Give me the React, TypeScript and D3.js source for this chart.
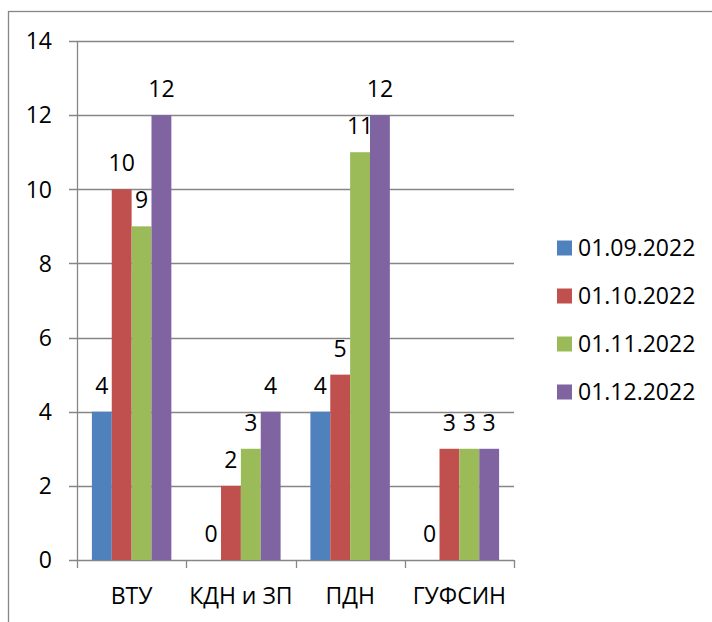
import React, { useEffect, useRef } from 'react';
import * as d3 from 'd3';

const categories = ['ВТУ', 'КДН и ЗП', 'ПДН', 'ГУФСИН'];
const seriesNames = ['01.09.2022', '01.10.2022', '01.11.2022', '01.12.2022'];
const seriesColors = ['#4F81BD', '#C0504D', '#9BBB59', '#8064A2'];
const values = [
  [4, 0, 4, 0],
  [10, 2, 5, 3],
  [9, 3, 11, 3],
  [12, 4, 12, 3],
];
const yTicks = [0, 2, 4, 6, 8, 10, 12, 14];

const FONT = "'Open Sans', 'Liberation Sans', sans-serif";
const FS = '23px';

const App = () => {
  const chartRef = useRef<SVGSVGElement>(null);

  useEffect(() => {
    const svg = d3.select(chartRef.current);
    svg.selectAll('*').remove();

    const width = 712;
    const height = 622;
    const left = 77, right = 514, top = 41, bottom = 560;
    const grey = '#868686';

    svg.append('rect')
      .attr('x', 8.5).attr('y', 11.5)
      .attr('width', width).attr('height', height)
      .attr('fill', 'white')
      .attr('stroke', grey).attr('stroke-width', 1.3);

    const y = d3.scaleLinear().domain([0, 14]).range([bottom, top]);
    const x0 = d3.scaleBand().domain(categories).range([left, right]).paddingInner(0).paddingOuter(0);
    // Excel gap width 150% => 0.75 bar on each side
    const barW = x0.bandwidth() / 5.5;
    const offset = (i: number) => 0.75 * barW + i * barW;

    // gridlines + y ticks
    const grid = svg.append('g');
    yTicks.forEach(t => {
      grid.append('line')
        .attr('x1', left - 8).attr('x2', right)
        .attr('y1', Math.round(y(t)) + 0.5).attr('y2', Math.round(y(t)) + 0.5)
        .attr('stroke', grey).attr('stroke-width', 1.3);
      grid.append('text')
        .attr('x', left - 25).attr('y', y(t))
        .attr('dy', '0.36em')
        .attr('text-anchor', 'end')
        .style('font-family', FONT).style('font-size', FS)
        .text(t);
    });

    // y axis line
    svg.append('line')
      .attr('x1', left + 0.5).attr('x2', left + 0.5)
      .attr('y1', top).attr('y2', bottom + 8)
      .attr('stroke', grey).attr('stroke-width', 1.3);

    // category ticks
    categories.forEach(c => {
      const xt = x0(c)! + x0.bandwidth();
      svg.append('line')
        .attr('x1', Math.round(xt) + 0.5).attr('x2', Math.round(xt) + 0.5)
        .attr('y1', bottom).attr('y2', bottom + 8)
        .attr('stroke', grey).attr('stroke-width', 1.3);
      svg.append('text')
        .attr('x', x0(c)! + x0.bandwidth() / 2).attr('y', 604)
        .attr('text-anchor', 'middle')
        .style('font-family', FONT).style('font-size', FS)
        .text(c);
    });

    // bars
    seriesNames.forEach((s, si) => {
      const g = svg.append('g');
      categories.forEach((c, ci) => {
        const v = values[si][ci];
        const bx = x0(c)! + offset(si);
        g.append('rect')
          .attr('x', bx).attr('y', y(v))
          .attr('width', barW).attr('height', bottom - y(v))
          .attr('fill', seriesColors[si]);
        g.append('text')
          .attr('x', bx + barW / 2).attr('y', y(v) - 18)
          .attr('text-anchor', 'middle')
          .style('font-family', FONT).style('font-size', FS)
          .text(v);
      });
    });

    // legend
    const legend = svg.append('g');
    seriesNames.forEach((s, i) => {
      const cy = 248 + i * 48;
      legend.append('rect')
        .attr('x', 557).attr('y', cy - 7.5)
        .attr('width', 15).attr('height', 15)
        .attr('fill', seriesColors[i]);
      legend.append('text')
        .attr('x', 578).attr('y', cy)
        .attr('dy', '0.36em')
        .style('font-family', FONT).style('font-size', FS)
        .text(s);
    });
  }, []);

  return (
    <div style={{ position: 'absolute', left: 0, top: 0 }}>
      <svg ref={chartRef} width={712} height={622} style={{ display: 'block' }} />
    </div>
  );
};

export default App;
